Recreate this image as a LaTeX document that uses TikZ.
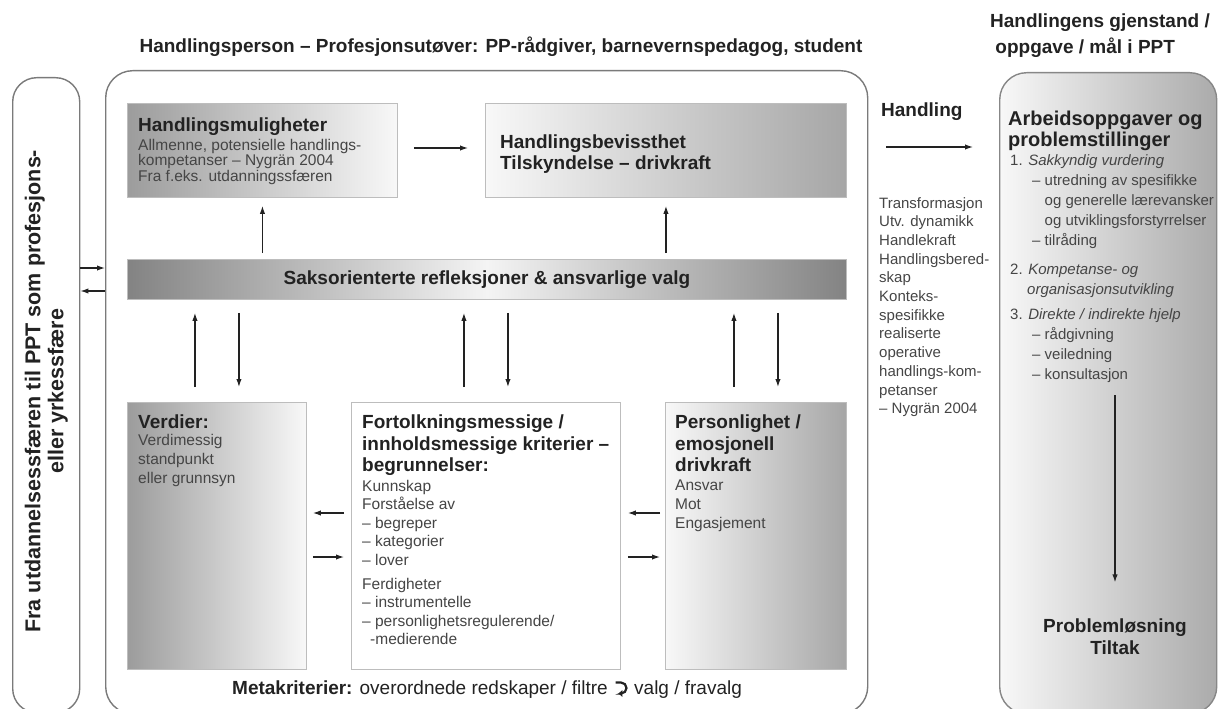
\documentclass[tikz,border=0pt]{standalone}
\usepackage{fontspec}
\setmainfont{Liberation Sans}
\usetikzlibrary{arrows.meta}

\definecolor{ink}{HTML}{222222}
\definecolor{txt}{HTML}{454545}
\definecolor{frame}{HTML}{7A7A7A}
\definecolor{edge}{HTML}{BDBDBD}
\definecolor{shdark}{HTML}{9C9C9C}
\definecolor{shlight}{HTML}{F8F8F8}
\definecolor{barend}{HTML}{838383}
\definecolor{barmid}{HTML}{F4F4F4}

\newcommand\setfs[2]{\fontsize{#1}{#2}\selectfont}
% multi-line blocks whose baseline is that of their first line
\newcommand\lstack[1]{\begin{tabular}[t]{@{}l@{}}#1\end{tabular}}
\newcommand\ctrstack[1]{\begin{tabular}[t]{@{}c@{}}#1\end{tabular}}

\tikzset{
  arr/.style={-{Latex[length=8pt,width=5.4pt]}, line width=1.2pt, draw=ink},
  panel/.style={draw=edge, line width=0.9pt, inner sep=0pt, anchor=north west},
  frame/.style={draw=frame, line width=1.4pt, rounded corners=27pt, inner sep=0pt, anchor=north west},
  head/.style={font=\setfs{19}{21.5}\bfseries, text=ink, inner sep=0pt, anchor=base west},
  body/.style={font=\setfs{15.5}{19}, text=txt, inner sep=0pt, anchor=base west},
}

\begin{document}
\begin{tikzpicture}[x=1pt, y=-1pt]
  \useasboundingbox (0,0) rectangle (1218,709);
  \clip (0,0) rectangle (1218,709);

  % outer frames
  \node[frame, rounded corners=24pt, minimum width=67pt, minimum height=635pt] (src) at (12,77) {};
  \node[frame, minimum width=762pt, minimum height=643pt] (act) at (105,70) {};
  \node[frame, draw=frame!90, left color=shlight, right color=shdark!85, minimum width=217pt, minimum height=641pt] (obj) at (999,72) {};

  % headings above the frames
  \node[head, anchor=base] (acttitle) at (501,53) {Handlingsperson – Profesjonsutøver: PP-rådgiver, barnevernspedagog, student};
  \node[head, font=\setfs{19}{26}\bfseries] (objtitle) at (990,28) {\lstack{Handlingens gjenstand /\\\ oppgave / mål i PPT}};

  % side label
  \node[font=\setfs{21.5}{23}\bfseries, text=ink, rotate=90, align=center, inner sep=0pt] (srclbl) at ([yshift=4pt]src.center)
    {Fra utdannelsessfæren til PPT som profesjons-\\eller yrkessfære};

  % upper row
  \node[panel, left color=shdark, right color=shlight, minimum width=270pt, minimum height=94pt] (hm) at (127,103) {};
  \node[head] (hmhead) at (138,131.5) {Handlingsmuligheter};
  \node[body, font=\setfs{15.5}{15.5}] (hmbody) at (138,150) {\lstack{Allmenne, potensielle handlings-\\kompetanser – Nygrän 2004\\Fra f.eks. utdanningssfæren}};

  \node[panel, left color=shlight, right color=shdark!90, minimum width=361pt, minimum height=94pt] (hb) at (485,103) {};
  \node[head, font=\setfs{19}{21}\bfseries] (hbhead) at (500,148.5) {\lstack{Handlingsbevissthet\\Tilskyndelse – drivkraft}};

  % reflection bar
  \node[panel, left color=barend, right color=barend, middle color=barmid, minimum width=719pt, minimum height=40pt,
        font=\setfs{19}{21}\bfseries, text=ink] (bar) at (127,259) {Saksorienterte refleksjoner \& ansvarlige valg};

  % lower row
  \node[panel, left color=shdark, right color=shlight, minimum width=179pt, minimum height=267pt] (vd) at (127,402) {};
  \node[head] (vdhead) at (138,428.5) {Verdier:};
  \node[body] (vdbody) at (138,445) {\lstack{Verdimessig\\standpunkt\\eller grunnsyn}};

  \node[panel, fill=white, minimum width=269pt, minimum height=267pt] (fk) at (351,402) {};
  \node[head] (fkhead) at (362,428.5) {\lstack{Fortolkningsmessige /\\innholdsmessige kriterier –\\begrunnelser:}};
  \node[body, font=\setfs{15.5}{18.6}] (fkbody) at (362,491) {\lstack{Kunnskap\\Forståelse av\\– begreper\\– kategorier\\– lover\\[5pt]Ferdigheter\\– instrumentelle\\– personlighetsregulerende/\\\hspace*{8pt}-medierende}};

  \node[panel, left color=shlight, right color=shdark!90, minimum width=181pt, minimum height=267pt] (ps) at (665,402) {};
  \node[head] (pshead) at (675,428.5) {\lstack{Personlighet /\\emosjonell\\drivkraft}};
  \node[body] (psbody) at (675,490) {\lstack{Ansvar\\Mot\\Engasjement}};

  % meta criteria line, with a curved-arrow sign between its two parts
  \node[font=\setfs{19}{21}, text=ink, inner sep=0pt, anchor=base west] (meta) at (232,694.5)
    {\textbf{Metakriterier:} overordnede redskaper / filtre};
  \node[font=\setfs{19}{21}, text=ink, inner sep=0pt, anchor=base west] (metaend) at ([xshift=26pt]meta.base east)
    {valg / fravalg};
  \coordinate (sym) at ([xshift=13pt, yshift=6.5pt]meta.base east);
  \draw[ink, line width=2.2pt, -{Triangle[length=3.8pt,width=6.4pt]}]
    ([xshift=-5.5pt, yshift=5.5pt]sym) -- ([xshift=0pt, yshift=5.5pt]sym)
    arc[start angle=-90, end angle=90, radius=5.5] -- ([xshift=-2.5pt, yshift=-5.5pt]sym);

  % action column
  \node[head] (actlbl) at (881,116.5) {Handling};
  \node[body, font=\setfs{15}{18.7}] (trans) at (879,208) {\lstack{Transformasjon\\Utv. dynamikk\\Handlekraft\\Handlingsbered-\\skap\\Konteks-\\spesifikke\\realiserte\\operative\\handlings-kom-\\petanser\\– Nygrän 2004}};

  % task column
  \node[head, font=\setfs{20}{21}\bfseries] (taskhead) at (1008,125) {\lstack{Arbeidsoppgaver og\\problemstillinger}};
  \node[body, font=\setfs{15}{20}] (tasks) at (1010,165) {\lstack{1. \textit{Sakkyndig vurdering}\\
    \hspace*{22pt}– utredning av spesifikke\\
    \hspace*{34.5pt}og generelle lærevansker\\
    \hspace*{34.5pt}og utviklingsforstyrrelser\\
    \hspace*{22pt}– tilråding\\[9pt]
    2. \textit{Kompetanse- og}\\
    \hspace*{17pt}\textit{organisasjonsutvikling}\\[5pt]
    3. \textit{Direkte / indirekte hjelp}\\
    \hspace*{22pt}– rådgivning\\
    \hspace*{22pt}– veiledning\\
    \hspace*{22pt}– konsultasjon}};
  \node[head, anchor=base, font=\setfs{19}{22}\bfseries] (res) at (1115,632) {\ctrstack{Problemløsning\\Tiltak}};

  % connectors
  \coordinate (yin) at (0,268);
  \coordinate (yout) at (0,291);
  \draw[arr] (src.east |- yin) -- (act.west |- yin);
  \draw[arr] (act.west |- yout) -- (src.east |- yout);

  \draw[arr, shorten <=16pt, shorten >=17pt] (hm.east |- 0,148) -- (hb.west |- 0,148);
  \draw[arr, shorten <=6pt, shorten >=8pt] (bar.north -| hm.south) -- (hm.south);
  \draw[arr, shorten <=6pt, shorten >=8pt] (bar.north -| hb.south) -- (hb.south);

  \foreach \b in {vd,fk,ps} {
    \draw[arr, shorten <=15pt, shorten >=13pt] ([xshift=-22pt]\b.north) -- ([xshift=-22pt]\b.north |- bar.south);
    \draw[arr, shorten <=13pt, shorten >=15pt] ([xshift=22pt]\b.north |- bar.south) -- ([xshift=22pt]\b.north);
  }

  \coordinate (ya) at (0,513);
  \coordinate (yb) at (0,557);
  \draw[arr, shorten <=7pt, shorten >=6pt] (fk.west |- ya) -- (vd.east |- ya);
  \draw[arr, shorten <=6pt, shorten >=7pt] (vd.east |- yb) -- (fk.west |- yb);
  \draw[arr, shorten <=5pt, shorten >=7pt] (ps.west |- ya) -- (fk.east |- ya);
  \draw[arr, shorten <=7pt, shorten >=5pt] (fk.east |- yb) -- (ps.west |- yb);

  \draw[arr, shorten <=18pt, shorten >=26pt] (act.east |- 0,147) -- (obj.west |- 0,147);
  \draw[arr, shorten <=10pt, shorten >=34pt] (tasks.south -| res.north) -- (res.north);
\end{tikzpicture}
\end{document}
